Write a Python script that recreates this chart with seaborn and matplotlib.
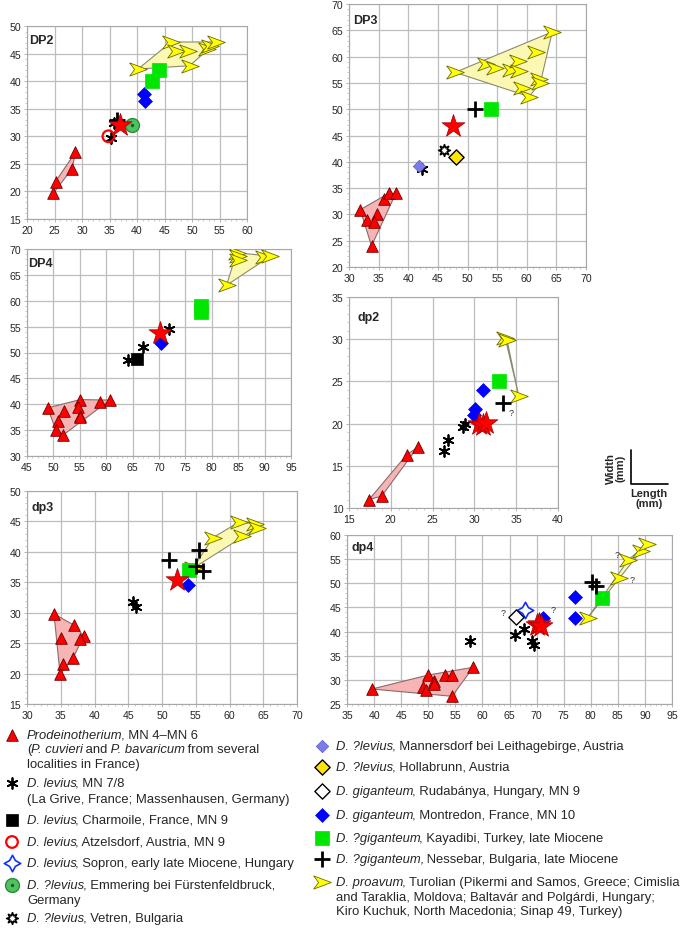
import numpy as np
import matplotlib
matplotlib.use("Agg")
import matplotlib.pyplot as plt
import seaborn as sns
from matplotlib.transforms import IdentityTransform
from matplotlib.ticker import MultipleLocator

W, H = 685, 929

# ---- DP2 (length, width in mm) ----
DP2_prod = [(24.8, 19.7), (25.2, 21.8), (28.2, 24.1), (28.8, 27.1)]
DP2_lev78 = [(35.2, 29.7), (35.8, 32.4)]
DP2_atz = [(34.8, 30.0)]
DP2_ness = [(36.3, 32.9)]
DP2_star = [(36.9, 32.1)]
DP2_emm = [(39.0, 32.1)]
DP2_mont = [(41.3, 37.6), (41.4, 36.4)]
DP2_kaya = [(42.8, 40.0), (44.0, 42.0)]
DP2_proa = [(40.2, 42.2), (46.2, 47.1), (47.0, 45.4), (49.2, 45.4), (49.6, 42.8),
            (52.8, 45.9), (53.2, 46.4), (54.4, 47.1)]

# ---- DP3 ----
DP3_prod = [(31.9, 30.9), (33.0, 29.0), (34.8, 30.0), (34.3, 28.5), (33.8, 24.0),
            (35.9, 33.0), (36.7, 34.0), (37.9, 34.0)]
DP3_mann = [(41.8, 39.2)]
DP3_lev78 = [(42.3, 38.6)]
DP3_vetren = [(46.1, 42.3)]
DP3_holl = [(48.0, 41.0)]
DP3_star = [(47.6, 46.9)]
DP3_ness = [(51.2, 50.0)]
DP3_kaya = [(53.9, 50.0)]
DP3_proa = [(47.9, 57.0), (53.2, 58.5), (54.7, 57.9), (57.3, 57.4), (58.5, 59.1),
            (58.7, 57.3), (61.5, 60.9), (64.3, 64.7), (62.1, 55.7), (62.3, 55.0),
            (59.2, 54.0), (60.4, 52.4)]

# ---- DP4 ----
DP4_prod = [(48.9, 39.3), (50.9, 36.8), (50.5, 35.0), (51.9, 34.1), (52.1, 38.7),
            (55.1, 40.9), (54.7, 39.4), (55.0, 37.8), (55.1, 37.5), (58.9, 40.5),
            (60.7, 40.8)]
DP4_lev78 = [(64.1, 48.6), (67.0, 51.0), (71.8, 54.6)]
DP4_charm = [(65.8, 48.8)]
DP4_star = [(70.1, 53.8)]
DP4_mont = [(70.3, 51.9)]
DP4_kaya = [(77.9, 59.0), (77.9, 57.8)]
DP4_proa = [(84.7, 69.3), (85.0, 68.6), (84.9, 67.9), (89.9, 68.5), (91.1, 68.6),
            (82.8, 63.0)]

# ---- dp2 ----
dp2_prod = [(17.4, 11.0), (18.9, 11.4), (21.9, 16.3), (23.2, 17.2)]
dp2_lev78 = [(26.4, 16.8), (26.8, 18.1), (28.6, 19.6), (28.9, 19.9)]
dp2_mont = [(31.0, 24.0), (30.1, 21.7), (29.9, 21.0)]
dp2_star = [(30.6, 19.9), (31.0, 19.8), (31.4, 20.1)]
dp2_kaya = [(33.0, 25.0)]
dp2_ness = [(33.4, 22.5)]
dp2_proa = [(33.7, 30.1), (33.9, 29.9), (35.3, 23.3)]

# ---- dp3 ----
dp3_prod = [(34.0, 29.8), (36.9, 28.0), (35.0, 25.9), (38.4, 26.2), (37.9, 25.7),
            (36.8, 22.5), (35.4, 21.6), (34.9, 19.9)]
dp3_lev78 = [(45.7, 31.8), (46.1, 30.9)]
dp3_ness = [(51.1, 38.6), (55.5, 40.3), (55.0, 37.6), (56.1, 36.9)]
dp3_kaya = [(54.0, 37.1)]
dp3_star = [(52.2, 35.3)]
dp3_mont = [(53.8, 34.5)]
dp3_proa = [(54.6, 37.3), (57.5, 42.3), (61.4, 44.9), (61.9, 42.6), (63.8, 44.6),
            (64.0, 43.9)]

# ---- dp4 ----
dp4_prod = [(39.6, 28.1), (50.0, 31.0), (49.0, 28.6), (49.6, 27.9), (51.0, 29.7),
            (51.0, 29.1), (53.0, 31.0), (54.3, 31.0), (54.4, 26.6), (58.3, 32.6)]
dp4_lev78 = [(57.7, 38.0), (66.0, 39.2), (67.7, 40.5), (69.1, 38.0), (69.6, 37.2)]
dp4_rud = [(66.2, 43.1)]
dp4_sopron = [(67.9, 44.4)]
dp4_mont = [(71.2, 42.8), (77.1, 47.1), (77.1, 42.8)]
dp4_star = [(70.0, 41.3), (70.5, 41.6), (70.8, 41.1)]
dp4_ness = [(80.2, 50.3), (80.9, 49.5)]
dp4_kaya = [(82.0, 47.0)]
dp4_proa = [(79.4, 42.8), (85.3, 51.1), (86.9, 54.8), (89.3, 56.7), (90.3, 58.1)]

# uncertain determinations ("?") : point and side of the mark
dp2_query = [(33.4, 22.5, "lr")]
dp4_query = [(66.2, 43.1, "l"), (71.2, 42.8, "ur"), (85.3, 51.1, "r"), (86.9, 54.8, "ul")]

PANELS = [
    ("DP2", dict(prod=DP2_prod, proa=DP2_proa, lev78=DP2_lev78, atz=DP2_atz, emm=DP2_emm,
                 mont=DP2_mont, kaya=DP2_kaya, ness=DP2_ness, star=DP2_star), []),
    ("DP3", dict(prod=DP3_prod, proa=DP3_proa, mann=DP3_mann, lev78=DP3_lev78, vetren=DP3_vetren,
                 holl=DP3_holl, kaya=DP3_kaya, ness=DP3_ness, star=DP3_star), []),
    ("DP4", dict(prod=DP4_prod, proa=DP4_proa, lev78=DP4_lev78, charm=DP4_charm, mont=DP4_mont,
                 kaya=DP4_kaya, star=DP4_star), []),
    ("dp2", dict(prod=dp2_prod, proa=dp2_proa, lev78=dp2_lev78, mont=dp2_mont, kaya=dp2_kaya,
                 ness=dp2_ness, star=dp2_star), dp2_query),
    ("dp3", dict(prod=dp3_prod, proa=dp3_proa, lev78=dp3_lev78, kaya=dp3_kaya, mont=dp3_mont,
                 ness=dp3_ness, star=dp3_star), []),
    ("dp4", dict(prod=dp4_prod, proa=dp4_proa, lev78=dp4_lev78, rud=dp4_rud, sopron=dp4_sopron,
                 mont=dp4_mont, kaya=dp4_kaya, ness=dp4_ness, star=dp4_star), dp4_query),
]

LEGEND_LEFT = [
    ("prod", [[("Prodeinotherium", 1), (", MN 4–MN 6", 0)],
              [("(", 0), ("P. cuvieri", 1), (" and", 0), (" P. bavaricum", 1), (" from several", 0)],
              [("localities in France)", 0)]]),
    ("lev78", [[("D. levius", 1), (", MN 7/8", 0)],
               [("(La Grive, France; Massenhausen, Germany)", 0)]]),
    ("charm", [[("D. levius", 1), (", Charmoile, France, MN 9", 0)]]),
    ("atz", [[("D. levius", 1), (", Atzelsdorf, Austria, MN 9", 0)]]),
    ("sopron", [[("D. levius", 1), (", Sopron, early late Miocene, Hungary", 0)]]),
    ("emm", [[("D. ?levius", 1), (", Emmering bei Fürstenfeldbruck,", 0)], [("Germany", 0)]]),
    ("vetren", [[("D. ?levius", 1), (", Vetren, Bulgaria", 0)]]),
]
LEGEND_RIGHT = [
    ("mann", [[("D. ?levius", 1), (", Mannersdorf bei Leithagebirge, Austria", 0)]]),
    ("holl", [[("D. ?levius", 1), (", Hollabrunn, Austria", 0)]]),
    ("rud", [[("D. giganteum", 1), (", Rudabánya, Hungary, MN 9", 0)]]),
    ("mont", [[("D. giganteum", 1), (", Montredon, France, MN 10", 0)]]),
    ("kaya", [[("D. ?giganteum", 1), (", Kayadibi, Turkey, late Miocene", 0)]]),
    ("ness", [[("D. ?giganteum,", 1), (" Nessebar, Bulgaria, late Miocene", 0)]]),
    ("proa", [[("D. proavum", 1), (", Turolian (Pikermi and Samos, Greece; Cimislia", 0)],
              [("and Taraklia, Moldova; Baltavár and Polgárdi, Hungary;", 0)],
              [("Kiro Kuchuk, North Macedonia; Sinap 49, Turkey)", 0)]]),
]

# ---------------- styles / layout ----------------
ARROW = [(-1.0, 0.75), (1.0, 0.0), (-1.0, -0.75), (-0.45, 0.0), (-1.0, 0.75)]
STYLE = {
    "prod": dict(marker="^", color="#ff0000", edgecolor="#700000", s=70, linewidth=0.6),
    "proa": dict(marker=ARROW, color="#ffff00", edgecolor="#6e6a00", s=160, linewidth=0.6),
    "lev78": dict(marker=(6, 2, 0), color="black", s=60, linewidth=1.3),
    "charm": dict(marker="s", color="black", edgecolor="black", s=80, linewidth=0.5),
    "atz": dict(marker="o", color="none", edgecolor="#ff0000", s=70, linewidth=1.6),
    "sopron": dict(marker=(4, 1, 0), color="white", edgecolor="#1030ff", s=140, linewidth=1.2),
    "emm": dict(marker="o", color="#4cc35e", edgecolor="#2a8c3c", s=100, linewidth=1.0),
    "vetren": dict(marker=(8, 1, 0), color="white", edgecolor="black", s=70, linewidth=1.2),
    "mann": dict(marker="D", color="#7c7ce8", edgecolor="#5a5ad0", s=40, linewidth=0.5),
    "holl": dict(marker="D", color="#ffe400", edgecolor="black", s=60, linewidth=1.0),
    "rud": dict(marker="D", color="white", edgecolor="black", s=60, linewidth=1.0),
    "mont": dict(marker="D", color="#0000ff", edgecolor="#0000ff", s=50, linewidth=0.5),
    "kaya": dict(marker="s", color="#00e600", edgecolor="#00e600", s=100, linewidth=0.5),
    "ness": dict(marker="+", color="black", s=120, linewidth=2.0),
    "star": dict(marker="*", color="#ff0000", edgecolor="#a00000", s=300, linewidth=0.5),
}
ORDER = ["prod", "proa", "lev78", "charm", "atz", "sopron", "emm", "vetren", "mann",
         "holl", "rud", "mont", "kaya", "ness", "star"]
HULL = {"prod": ("#f6b4b4", "#8a6a6a"), "proa": ("#fbf8b4", "#8a8a70")}

# pixel boxes: left, top, right, bottom ; limits ; label offset
AX_BOX = {
    "DP2": ((27, 27, 247, 220), (20, 60), (15, 50), (2, 14)),
    "DP3": ((349, 5, 586, 268), (30, 70), (20, 70), (4, 16)),
    "DP4": ((27, 250, 291, 457), (45, 95), (30, 70), (1, 14)),
    "dp2": ((349, 298, 558, 509), (15, 40), (10, 35), (8, 20)),
    "dp3": ((27, 492, 297, 705), (30, 70), (15, 50), (5, 16)),
    "dp4": ((347, 536, 672, 705), (35, 95), (25, 60), (4, 12)),
}

sns.set_style("whitegrid", {"grid.color": "#bdbdbd", "axes.edgecolor": "#a8a8a8"})
plt.rcParams["font.family"] = ["Liberation Sans", "DejaVu Sans"]


def hull(points):
    pts = sorted(set(points))
    if len(pts) < 3:
        return pts

    def cross(o, a, b):
        return (a[0] - o[0]) * (b[1] - o[1]) - (a[1] - o[1]) * (b[0] - o[0])

    lower, upper = [], []
    for p in pts:
        while len(lower) >= 2 and cross(lower[-2], lower[-1], p) <= 0:
            lower.pop()
        lower.append(p)
    for p in reversed(pts):
        while len(upper) >= 2 and cross(upper[-2], upper[-1], p) <= 0:
            upper.pop()
        upper.append(p)
    return lower[:-1] + upper[:-1]


def draw_group(ax, key, xs, ys, zorder=3):
    sns.scatterplot(x=xs, y=ys, ax=ax, zorder=zorder, legend=False, **STYLE[key])
    if key == "emm":
        sns.scatterplot(x=xs, y=ys, ax=ax, marker="o", color="#1d5a26", s=6,
                        linewidth=0, zorder=zorder + 0.1, legend=False)


fig = plt.figure(figsize=(W / 100, H / 100), dpi=100)

for name, groups, queries in PANELS:
    (l, t, r, b), xlim, ylim, (lx, ly) = AX_BOX[name]
    ax = fig.add_axes([l / W, 1 - b / H, (r - l) / W, (b - t) / H])
    for key in ("prod", "proa"):
        if key in groups:
            hp = hull(groups[key])
            hx = [p[0] for p in hp]
            hy = [p[1] for p in hp]
            ax.fill(hx, hy, facecolor=HULL[key][0], edgecolor=HULL[key][1],
                    linewidth=0.8, zorder=2)
    for key in ORDER:
        if key in groups:
            xs = [p[0] for p in groups[key]]
            ys = [p[1] for p in groups[key]]
            draw_group(ax, key, xs, ys)
    for qx, qy, side in queries:
        off = {"lr": (6, -7), "l": (-9, 3), "ur": (7, 6), "r": (9, -1), "ul": (-8, 4)}[side]
        ax.annotate("?", (qx, qy), xytext=off, textcoords="offset points",
                    fontsize=6.5, ha="center", va="center", color="#333333", zorder=6)
    ax.set_xlim(*xlim)
    ax.set_ylim(*ylim)
    ax.xaxis.set_major_locator(MultipleLocator(5))
    ax.yaxis.set_major_locator(MultipleLocator(5))
    ax.xaxis.set_minor_locator(MultipleLocator(1))
    ax.yaxis.set_minor_locator(MultipleLocator(1))
    ax.grid(True, which="major", color="#bdbdbd", linewidth=0.9)
    ax.grid(False, which="minor")
    ax.tick_params(which="major", labelsize=7.6, length=2.5, width=0.6, color="#a8a8a8",
                   pad=1.5, bottom=True, left=True)
    ax.tick_params(which="minor", length=1.5, width=0.5, color="#b8b8b8", bottom=True, left=True)
    for sp in ax.spines.values():
        sp.set_color("#a8a8a8")
        sp.set_linewidth(0.8)
    ax.set_xlabel("")
    ax.set_ylabel("")
    ax.annotate(name, (0, 1), xycoords="axes fraction", xytext=(lx, -ly),
                textcoords="offset pixels", fontsize=9, fontweight="bold",
                ha="left", va="center", zorder=7)

# overlay for the legend and the scale key (pixel coordinates)
ov = fig.add_axes([0, 0, 1, 1])
ov.set_xlim(0, W)
ov.set_ylim(H, 0)
ov.axis("off")
ov.patch.set_visible(False)

renderer = fig.canvas.get_renderer()


def rich(x, y, parts, size=9.4):
    for s, it in parts:
        txt = fig.text(x, H - y, s, transform=IdentityTransform(), fontsize=size,
                       style="italic" if it else "normal", ha="left", va="center")
        x += txt.get_window_extent(renderer).width
        if it:
            x -= 1.5  # italic overhang makes the box a bit wide


LEFT_Y = [[736, 750, 765], [784, 800], [821], [843], [864], [886, 901], [919]]
RIGHT_Y = [[747], [768], [792], [816], [839], [860], [883, 898, 912]]

for (entries, ys_list, mx, tx) in ((LEGEND_LEFT, LEFT_Y, 12, 27), (LEGEND_RIGHT, RIGHT_Y, 322, 336)):
    for (key, lines), ys in zip(entries, ys_list):
        draw_group(ov, key, [mx], [ys[0]], zorder=3)
        for line, yy in zip(lines, ys):
            rich(tx, yy, line)

# scale key
ov.plot([631, 631, 668], [451, 485, 485], color="black", linewidth=1.2)
ov.text(616, 468, "Width\n(mm)", rotation=90, fontsize=8, fontweight="bold",
        ha="center", va="center", linespacing=1.0)
ov.text(649, 499, "Length\n(mm)", fontsize=8, fontweight="bold",
        ha="center", va="center", linespacing=1.0)

fig.savefig("out.png", dpi=100)
